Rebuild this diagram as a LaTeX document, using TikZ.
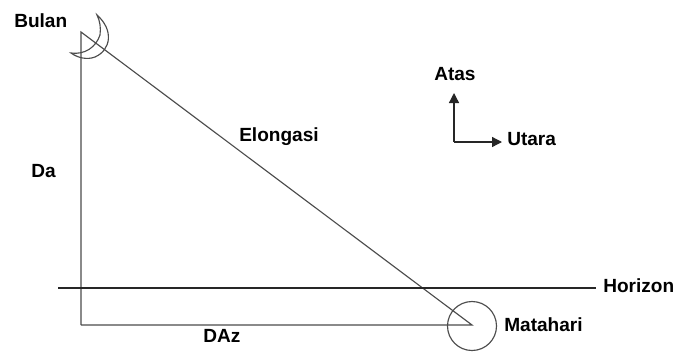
\documentclass[tikz,border=0pt]{standalone}
\usepackage{fontspec}
\setmainfont{Liberation Sans}
\usetikzlibrary{arrows.meta}
\tikzset{
  lbl/.style={font=\bfseries\fontsize{14.3pt}{16pt}\selectfont,inner sep=0pt,text=black},
  thin line/.style={draw=black!70,line width=0.85pt},
  thick line/.style={draw=black!85,line width=1.7pt},
  arrow line/.style={draw=black!85,line width=1pt,-{Triangle[length=7.5pt,width=7.5pt]}},
  outline/.style={draw=black!70,line width=0.85pt}
}
\begin{document}
\begin{tikzpicture}[x=0.75pt,y=-0.75pt]
\useasboundingbox (0,0) rectangle (674,351);
\fill[white] (0,0) rectangle (674,351);
\coordinate (top) at (81,32);
\coordinate (corner) at (81,325);
\coordinate (sun) at (472,325);
\coordinate (hl) at (58,288);
\coordinate (hr) at (596,288);
\coordinate (o) at (454,142);
\coordinate (up) at (454,93);
\coordinate (right) at (502,142);
\draw[thin line] (corner) -- (top) -- (sun) -- (corner);
\draw[thick line] (hl) -- (hr);
\draw[outline] (472,326) circle (24.5);
\draw[outline] (97,15) .. controls (114,30) and (111,50) .. (95,57)
   .. controls (87,60) and (78,58) .. (71,53)
   .. controls (85,55) and (96,47) .. (100,35)
   .. controls (101,28) and (100,21) .. (97,15) -- cycle;
\draw[arrow line] (o) -- (up);
\draw[arrow line] (o) -- (right);
\node[lbl,anchor=west] (bulan) at (14,20.5) {Bulan};
\node[lbl,anchor=west] (elong) at (239,137) {Elongasi};
\node[lbl,anchor=west] (da) at (31,171) {Da};
\node[lbl,anchor=west] (daz) at (203,336) {DAz};
\node[lbl,anchor=west] (horizon) at (603,286) {Horizon};
\node[lbl,anchor=west] (matahari) at (504,325) {Matahari};
\node[lbl,anchor=west] (atas) at (434,74) {Atas};
\node[lbl,anchor=west] (utara) at (507,139) {Utara};
\end{tikzpicture}
\end{document}
